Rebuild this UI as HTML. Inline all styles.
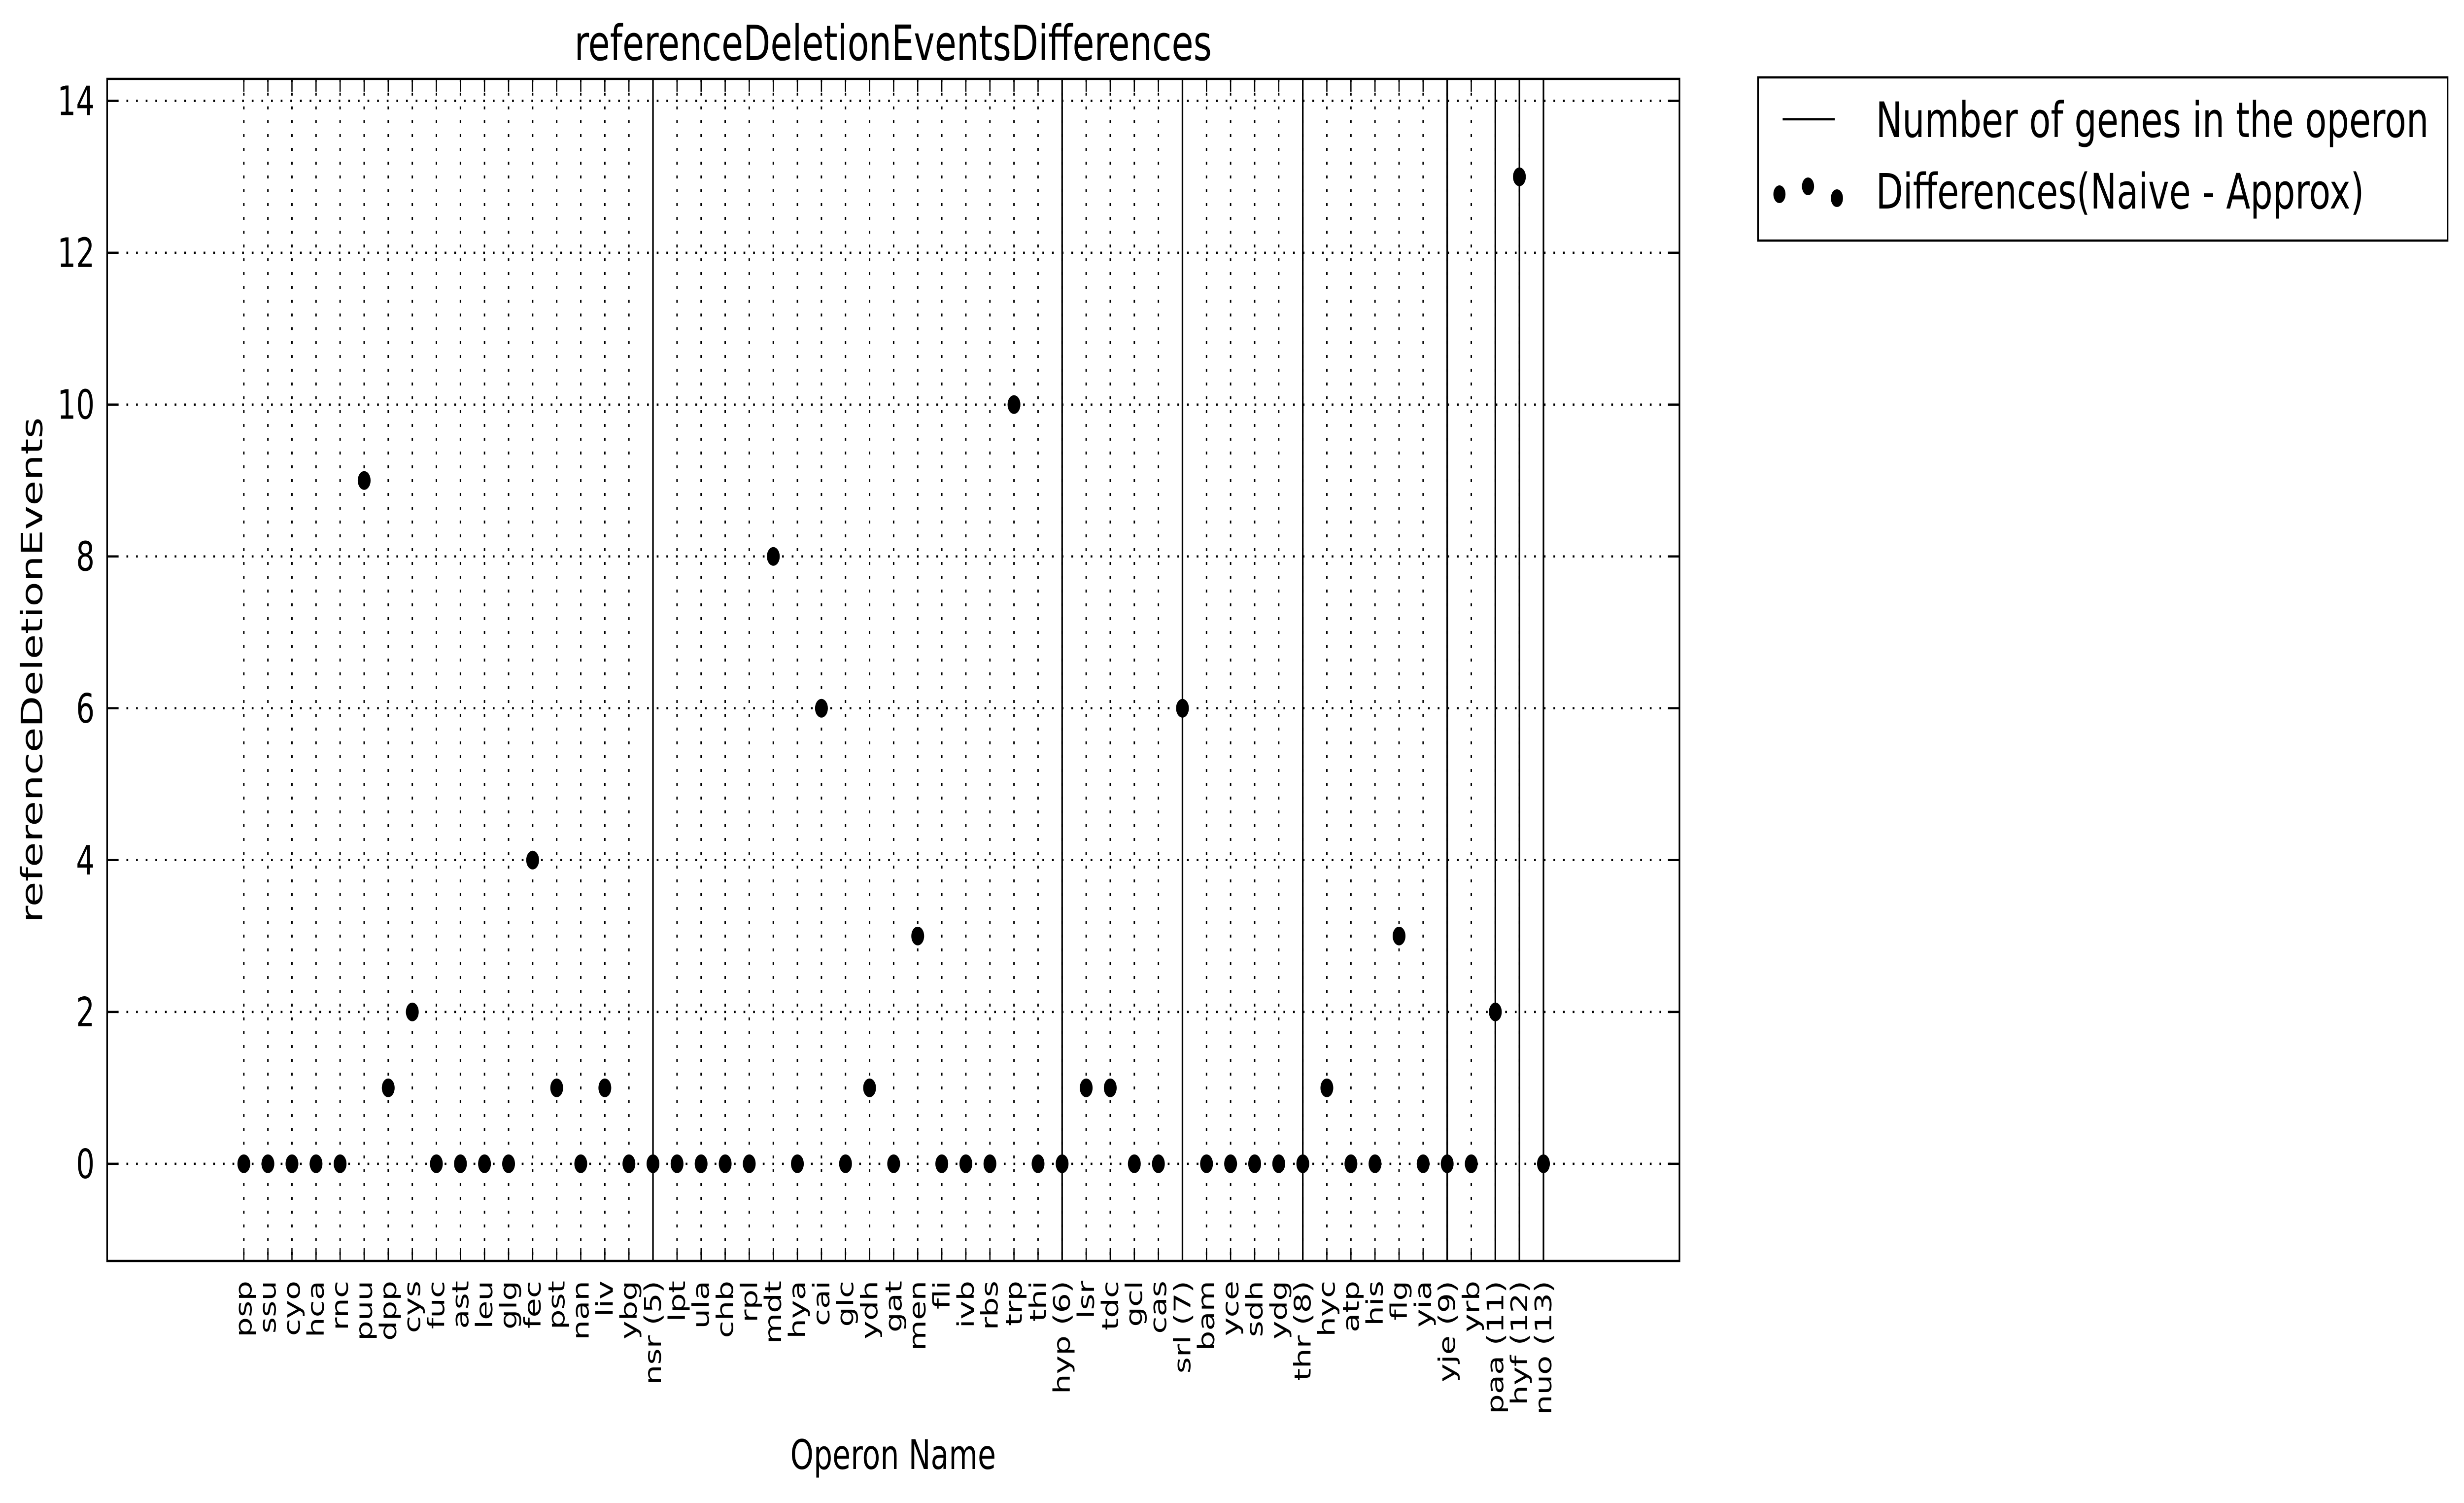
<!DOCTYPE html>
<html><head><meta charset="utf-8"><style>
html,body{margin:0;padding:0;background:#fff;width:100%;height:100%;overflow:hidden;}
svg{display:block;width:100%;height:100%;font-family:"DejaVu Sans","Liberation Sans",sans-serif;}
</style></head><body>
<svg id="chart" viewBox="0 0 6900 3049" preserveAspectRatio="none" xmlns="http://www.w3.org/2000/svg">
<rect x="0" y="0" width="6900" height="3049" fill="#fff"/>
<g id="grid"></g>
<g id="vlines"></g>
<g id="points"></g>
<g id="ticks"></g>
<rect x="300" y="160" width="4403" height="2398" fill="none" stroke="#000" stroke-width="4.5"/>
<text x="2501" y="122" font-size="99" text-anchor="middle">referenceDeletionEventsDifferences</text>
<text x="2501" y="2980" font-size="83" text-anchor="middle">Operon Name</text>
<text transform="translate(118,1359) rotate(-90)" font-size="83" text-anchor="middle">referenceDeletionEvents</text>
<g>
<rect x="4923" y="157" width="1931" height="331" fill="#fff" stroke="#000" stroke-width="4.5"/>
<line x1="4992" y1="242" x2="5138" y2="242" stroke="#000" stroke-width="4.5"/>
<text x="5253" y="278" font-size="99">Number of genes in the operon</text>
<ellipse cx="4983" cy="394" rx="17" ry="18" fill="#000"/>
<ellipse cx="5063" cy="378" rx="17" ry="18" fill="#000"/>
<ellipse cx="5144" cy="402" rx="17" ry="18" fill="#000"/>
<text x="5253" y="423" font-size="99">Differences(Naive - Approx)</text>
</g>
</svg>
<script>
const categories = ["psp","ssu","cyo","hca","rnc","puu","dpp","cys","fuc","ast","leu","glg","fec","pst","nan","liv","ybg","nsr (5)","lpt","ula","chb","rpl","mdt","hya","cai","glc","ydh","gat","men","fli","ivb","rbs","trp","thi","hyp (6)","lsr","tdc","gcl","cas","srl (7)","bam","yce","sdh","ydg","thr (8)","hyc","atp","his","flg","yia","yje (9)","yrb","paa (11)","hyf (12)","nuo (13)"];
const differences = [0,0,0,0,0,9,1,2,0,0,0,0,4,1,0,1,0,0,0,0,0,0,8,0,6,0,1,0,3,0,0,0,10,0,0,1,1,0,0,6,0,0,0,0,0,1,0,0,3,0,0,0,2,13,0];
const geneLineFlags = [0,0,0,0,0,0,0,0,0,0,0,0,0,0,0,0,0,1,0,0,0,0,0,0,0,0,0,0,0,0,0,0,0,0,1,0,0,0,0,1,0,0,0,0,1,0,0,0,0,0,1,0,1,1,1];
const yTicks = [0,2,4,6,8,10,12,14];

const NS = "http://www.w3.org/2000/svg";
const L=300,R=4703,T=160,B=2558;
const xMin=-5.68,xMax=59.65,yMin=-1.28,yMax=14.29;
function xs(i){return L+(i-xMin)/(xMax-xMin)*(R-L);}
function ys(v){return B-(v-yMin)/(yMax-yMin)*(B-T);}
function mk(tag,attrs,parent){const e=document.createElementNS(NS,tag);for(const k in attrs)e.setAttribute(k,attrs[k]);parent.appendChild(e);return e;}
const grid=document.getElementById('grid'),vl=document.getElementById('vlines'),pts=document.getElementById('points'),tk=document.getElementById('ticks'),svg=document.getElementById('chart');

yTicks.forEach(v=>{
  const y=ys(v);
  const g=mk('line',{x1:L,x2:R,y1:y,y2:y,stroke:'#000','stroke-width':4.5,'stroke-dasharray':'5 22'},grid);
  
  
  const t1=mk('line',{x1:L,x2:L+32,y1:y,y2:y,stroke:'#000','stroke-width':4.5},tk);
  
  
  const t2=mk('line',{x1:R-32,x2:R,y1:y,y2:y,stroke:'#000','stroke-width':4.5},tk);
  
  
  const lb=mk('text',{x:265,y:y+29,'font-size':82,'text-anchor':'end'},svg);
  lb.textContent=String(v);
  
  
});

categories.forEach((c,i)=>{
  const x=xs(i);
  const g=mk('line',{x1:x,x2:x,y1:T,y2:B,stroke:'#000','stroke-width':4,'stroke-dasharray':'6 22'},grid);
  
  
  const t1=mk('line',{x1:x,x2:x,y1:B,y2:B-26,stroke:'#000','stroke-width':3.5},tk);
  
  
  const t2=mk('line',{x1:x,x2:x,y1:T,y2:T+26,stroke:'#000','stroke-width':3.5},tk);
  
  
  if(geneLineFlags[i]){
    const l=mk('line',{x1:x,x2:x,y1:T,y2:B,stroke:'#000','stroke-width':4.5},vl);
    
    
  }
  const d=mk('ellipse',{cx:x,cy:ys(differences[i]),rx:18,ry:19,fill:'#000'},pts);
  
  
  const lb=mk('text',{transform:'translate('+(x+22)+',2598) rotate(-90)','font-size':64,'text-anchor':'end'},svg);
  lb.textContent=c;
  
  
});
</script>
</body></html>
